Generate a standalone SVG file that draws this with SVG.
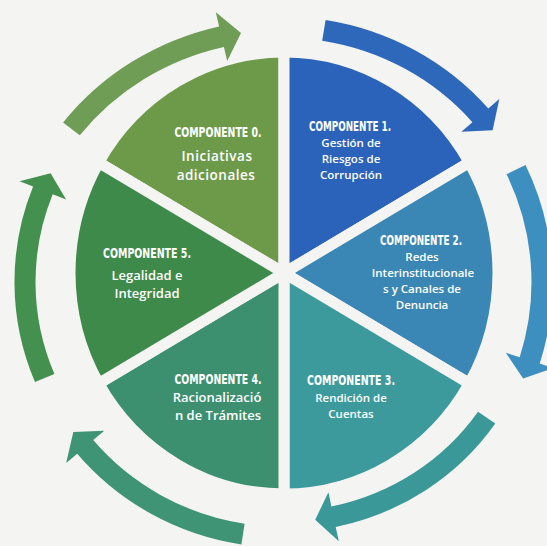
<svg xmlns="http://www.w3.org/2000/svg" width="547" height="546" viewBox="0 0 547 546">
<style>
.sec{stroke:#f4f4f2;stroke-width:11;stroke-linejoin:round}
.t{fill:#ffffff;font-family:'DejaVu Sans Condensed','Liberation Sans Narrow','DejaVu Sans',sans-serif;font-weight:bold;font-size:13.5px;text-anchor:middle}
.b{fill:#ffffff;font-family:'Open Sans','Noto Sans',sans-serif;font-weight:600;text-anchor:middle}
</style>
<rect width="547" height="546" fill="#f4f4f2"/>
<g id="nodes">
<g id="comp0">
<path class="sec" fill="#6d9a49" d="M284,273 L98.7,162.5 A214,221 0 0 1 284,52 Z"/>
<text class="t" x="218" y="137" textLength="87" lengthAdjust="spacingAndGlyphs">COMPONENTE 0.</text>
<text class="b" x="217" y="161" font-size="13.5" letter-spacing="0.5">Iniciativas</text>
<text class="b" x="216" y="180" font-size="13.5" letter-spacing="0.5">adicionales</text>
</g>
<g id="comp1">
<path class="sec" fill="#2a63b9" d="M284,273 L284,52 A214,221 0 0 1 469.3,162.5 Z"/>
<text class="t" x="350" y="131" textLength="82" lengthAdjust="spacingAndGlyphs">COMPONENTE 1.</text>
<text class="b" x="351" y="147" font-size="11.5">Gestión de</text>
<text class="b" x="351" y="163" font-size="11.5">Riesgos de</text>
<text class="b" x="351" y="179" font-size="11.5">Corrupción</text>
</g>
<g id="comp2">
<path class="sec" fill="#3a87b6" d="M284,273 L469.3,162.5 A214,221 0 0 1 469.3,383.5 Z"/>
<text class="t" x="421" y="245" textLength="82" lengthAdjust="spacingAndGlyphs">COMPONENTE 2.</text>
<text class="b" x="422" y="261" font-size="11.5">Redes</text>
<text class="b" x="423" y="277" font-size="11.5">Interinstitucionale</text>
<text class="b" x="422" y="293" font-size="11.5">s y Canales de</text>
<text class="b" x="422" y="309" font-size="11.5">Denuncia</text>
</g>
<g id="comp3">
<path class="sec" fill="#3c9a9d" d="M284,273 L469.3,383.5 A214,221 0 0 1 284,494 Z"/>
<text class="t" x="351" y="385" textLength="88" lengthAdjust="spacingAndGlyphs">COMPONENTE 3.</text>
<text class="b" x="351" y="402" font-size="11.5">Rendición de</text>
<text class="b" x="351" y="418" font-size="11.5">Cuentas</text>
</g>
<g id="comp4">
<path class="sec" fill="#3c9070" d="M284,273 L284,494 A214,221 0 0 1 98.7,383.5 Z"/>
<text class="t" x="218" y="384" textLength="87" lengthAdjust="spacingAndGlyphs">COMPONENTE 4.</text>
<text class="b" x="217" y="402" font-size="13">Racionalizació</text>
<text class="b" x="218" y="420" font-size="13">n de Trámites</text>
</g>
<g id="comp5">
<path class="sec" fill="#3e8a4a" d="M284,273 L98.7,383.5 A214,221 0 0 1 98.7,162.5 Z"/>
<text class="t" x="147" y="258" textLength="88" lengthAdjust="spacingAndGlyphs">COMPONENTE 5.</text>
<text class="b" x="147" y="280" font-size="13">Legalidad e</text>
<text class="b" x="147" y="298" font-size="13">Integridad</text>
</g>
</g>
<g id="connectors">
<path id="arrowA" fill="#6f9d55" d="M63.1,122.6 A275.5,262.5 0 0 1 219.1,26.4 L215.8,12.3 L241,33 L227.2,61 L223.9,46.9 A254.5,241.5 0 0 0 79.8,135.3 Z"/>
<path id="arrowB" fill="#2d68bb" d="M325.6,19.9 A272.5,265.5 0 0 1 488.3,108.5 L499.3,99 L492.6,130.3 L461.4,131.7 L472.4,122.2 A251.5,244.5 0 0 0 322.2,40.7 Z"/>
<path id="arrowC" fill="#3d8fbf" d="M525.5,165.1 A270.5,268.5 0 0 1 539.7,363.6 L553.5,368 L523.1,378.6 L505.9,352.8 L519.7,357.2 A249.5,247.5 0 0 0 506.6,174.3 Z"/>
<path id="arrowD" fill="#3a9898" d="M495.3,423.5 A258.5,250.5 0 0 1 335.7,527 L338.8,541.2 L315.2,519.8 L328.4,492.3 L331.4,506.5 A237.5,229.5 0 0 0 478,411.7 Z"/>
<path id="arrowE" fill="#3e9475" d="M241.4,544.4 A268.5,265.5 0 0 1 77.2,453.7 L66.2,463.1 L73.3,431.9 L104.3,430.8 L93.2,440.1 A247.5,244.5 0 0 0 244.6,523.7 Z"/>
<path id="arrowF" fill="#44904f" d="M35,382.1 A267.5,260.5 0 0 1 33.1,186.5 L19.6,181.2 L50.6,173.2 L66.1,199.5 L52.7,194.2 A246.5,239.5 0 0 0 54.4,374 Z"/>
</g>
</svg>
